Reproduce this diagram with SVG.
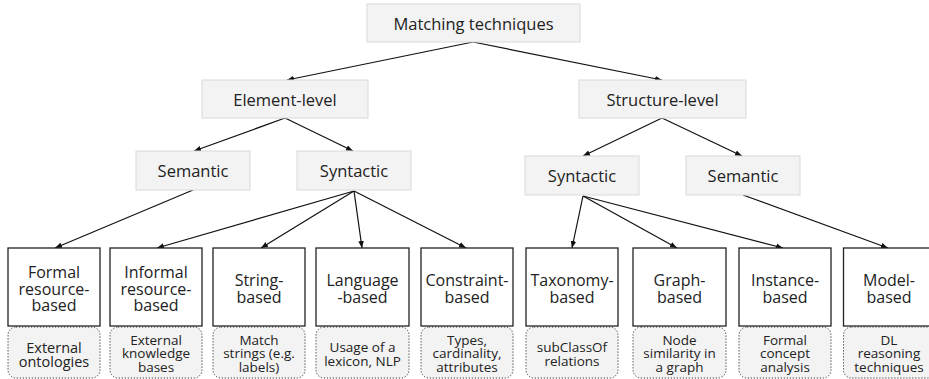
<svg xmlns="http://www.w3.org/2000/svg" width="929" height="379" viewBox="0 0 929 379">
<defs>
<style>
.cat{fill:#f3f3f3;stroke:#d9d9d9;stroke-width:1}
.leaf{fill:#ffffff;stroke:#222;stroke-width:1.3}
.note{fill:#f3f3f3;stroke:#333;stroke-width:1;stroke-dasharray:1.2 1.8}
text{font-family:"Open Sans","Liberation Sans",sans-serif;fill:#222;text-anchor:middle;dominant-baseline:central}
.t1{font-size:16.5px}
.t2{font-size:16px}
.t3{font-size:13.5px}
.t4{font-size:14.5px}
.edge{stroke:#111;stroke-width:1.2;fill:none;marker-end:url(#ah)}
</style>
<marker id="ah" viewBox="0 0 10 10" refX="10" refY="5" markerWidth="7" markerHeight="7" markerUnits="userSpaceOnUse" orient="auto">
<path d="M0,1 L10,5 L0,9 z" fill="#111"/>
</marker>
</defs>
<rect width="929" height="379" fill="#ffffff"/>
<g id="connectors">
<line class="edge" x1="473" y1="42" x2="287" y2="80"/>
<line class="edge" x1="473" y1="42" x2="662" y2="80"/>
<line class="edge" x1="285" y1="118" x2="194" y2="151"/>
<line class="edge" x1="285" y1="118" x2="353" y2="151"/>
<line class="edge" x1="662" y1="118" x2="583" y2="156"/>
<line class="edge" x1="662" y1="118" x2="742" y2="156"/>
<line class="edge" x1="193" y1="190" x2="55" y2="248"/>
<line class="edge" x1="354" y1="191" x2="157" y2="248"/>
<line class="edge" x1="354" y1="191" x2="261" y2="248"/>
<line class="edge" x1="354" y1="191" x2="362" y2="248"/>
<line class="edge" x1="354" y1="191" x2="466" y2="248"/>
<line class="edge" x1="583" y1="196" x2="572" y2="248"/>
<line class="edge" x1="583" y1="196" x2="677" y2="248"/>
<line class="edge" x1="583" y1="196" x2="783" y2="248"/>
<line class="edge" x1="743" y1="195" x2="888" y2="248"/>
</g>
<g id="matching"><rect class="cat" x="367" y="4" width="213" height="38"/><text class="t1" x="473.5" y="23">Matching techniques</text></g>
<g id="element-level"><rect class="cat" x="202" y="80" width="166" height="38"/><text class="t1" x="285" y="99">Element-level</text></g>
<g id="structure-level"><rect class="cat" x="579" y="80" width="167" height="38"/><text class="t1" x="662.5" y="99">Structure-level</text></g>
<g id="semantic-el"><rect class="cat" x="136" y="151" width="114" height="39"/><text class="t1" x="193" y="170.5">Semantic</text></g>
<g id="syntactic-el"><rect class="cat" x="297" y="151" width="114" height="39"/><text class="t1" x="354" y="170.5">Syntactic</text></g>
<g id="syntactic-st"><rect class="cat" x="525" y="156" width="114" height="39"/><text class="t1" x="582" y="175.5">Syntactic</text></g>
<g id="semantic-st"><rect class="cat" x="686" y="156" width="114" height="39"/><text class="t1" x="743" y="175.5">Semantic</text></g>

<g id="formal"><rect class="leaf" x="8" y="248" width="92" height="78"/><text class="t2"><tspan x="54" y="272">Formal</tspan><tspan x="54" y="288.5">resource-</tspan><tspan x="54" y="305">based</tspan></text></g>
<g id="formal-note"><rect class="note" x="8" y="327" width="92" height="51" rx="8"/><text class="t4"><tspan x="54" y="347">External</tspan><tspan x="54" y="361">ontologies</tspan></text></g>

<g id="informal"><rect class="leaf" x="110" y="248" width="92" height="78"/><text class="t2"><tspan x="156" y="272">Informal</tspan><tspan x="156" y="288.5">resource-</tspan><tspan x="156" y="305">based</tspan></text></g>
<g id="informal-note"><rect class="note" x="110" y="327" width="92" height="51" rx="8"/><text class="t3"><tspan x="156" y="340">External</tspan><tspan x="156" y="353.3">knowledge</tspan><tspan x="156" y="366.7">bases</tspan></text></g>

<g id="string"><rect class="leaf" x="213" y="248" width="92" height="78"/><text class="t2"><tspan x="259" y="280">String-</tspan><tspan x="259" y="296.5">based</tspan></text></g>
<g id="string-note"><rect class="note" x="213" y="327" width="92" height="51" rx="8"/><text class="t3"><tspan x="259" y="340">Match</tspan><tspan x="259" y="353.3">strings (e.g.</tspan><tspan x="259" y="366.7">labels)</tspan></text></g>

<g id="language"><rect class="leaf" x="316" y="248" width="93" height="78"/><text class="t2"><tspan x="362.5" y="280">Language</tspan><tspan x="362.5" y="296.5">-based</tspan></text></g>
<g id="language-note"><rect class="note" x="316" y="327" width="93" height="51" rx="8"/><text class="t3"><tspan x="362.5" y="347">Usage of a</tspan><tspan x="362.5" y="360.5">lexicon, NLP</tspan></text></g>

<g id="constraint"><rect class="leaf" x="421" y="248" width="92" height="78"/><text class="t2"><tspan x="467" y="280">Constraint-</tspan><tspan x="467" y="296.5">based</tspan></text></g>
<g id="constraint-note"><rect class="note" x="421" y="327" width="92" height="51" rx="8"/><text class="t3"><tspan x="467" y="340">Types,</tspan><tspan x="467" y="353.3">cardinality,</tspan><tspan x="467" y="366.7">attributes</tspan></text></g>

<g id="taxonomy"><rect class="leaf" x="526" y="248" width="92" height="78"/><text class="t2"><tspan x="572" y="280">Taxonomy-</tspan><tspan x="572" y="296.5">based</tspan></text></g>
<g id="taxonomy-note"><rect class="note" x="526" y="327" width="92" height="51" rx="8"/><text class="t3"><tspan x="572" y="347">subClassOf</tspan><tspan x="572" y="360.5">relations</tspan></text></g>

<g id="graph"><rect class="leaf" x="633" y="248" width="93" height="78"/><text class="t2"><tspan x="679.5" y="280">Graph-</tspan><tspan x="679.5" y="296.5">based</tspan></text></g>
<g id="graph-note"><rect class="note" x="633" y="327" width="93" height="51" rx="8"/><text class="t3"><tspan x="679.5" y="340">Node</tspan><tspan x="679.5" y="353.3">similarity in</tspan><tspan x="679.5" y="366.7">a graph</tspan></text></g>

<g id="instance"><rect class="leaf" x="739" y="248" width="92" height="78"/><text class="t2"><tspan x="785" y="280">Instance-</tspan><tspan x="785" y="296.5">based</tspan></text></g>
<g id="instance-note"><rect class="note" x="739" y="327" width="92" height="51" rx="8"/><text class="t3"><tspan x="785" y="340">Formal</tspan><tspan x="785" y="353.3">concept</tspan><tspan x="785" y="366.7">analysis</tspan></text></g>

<g id="model"><rect class="leaf" x="843.5" y="248" width="92" height="78"/><text class="t2"><tspan x="889" y="280">Model-</tspan><tspan x="889" y="296.5">based</tspan></text></g>
<g id="model-note"><rect class="note" x="843.5" y="327" width="92" height="51" rx="8"/><text class="t3"><tspan x="889" y="340">DL</tspan><tspan x="889" y="353.3">reasoning</tspan><tspan x="889" y="366.7">techniques</tspan></text></g>
</svg>
